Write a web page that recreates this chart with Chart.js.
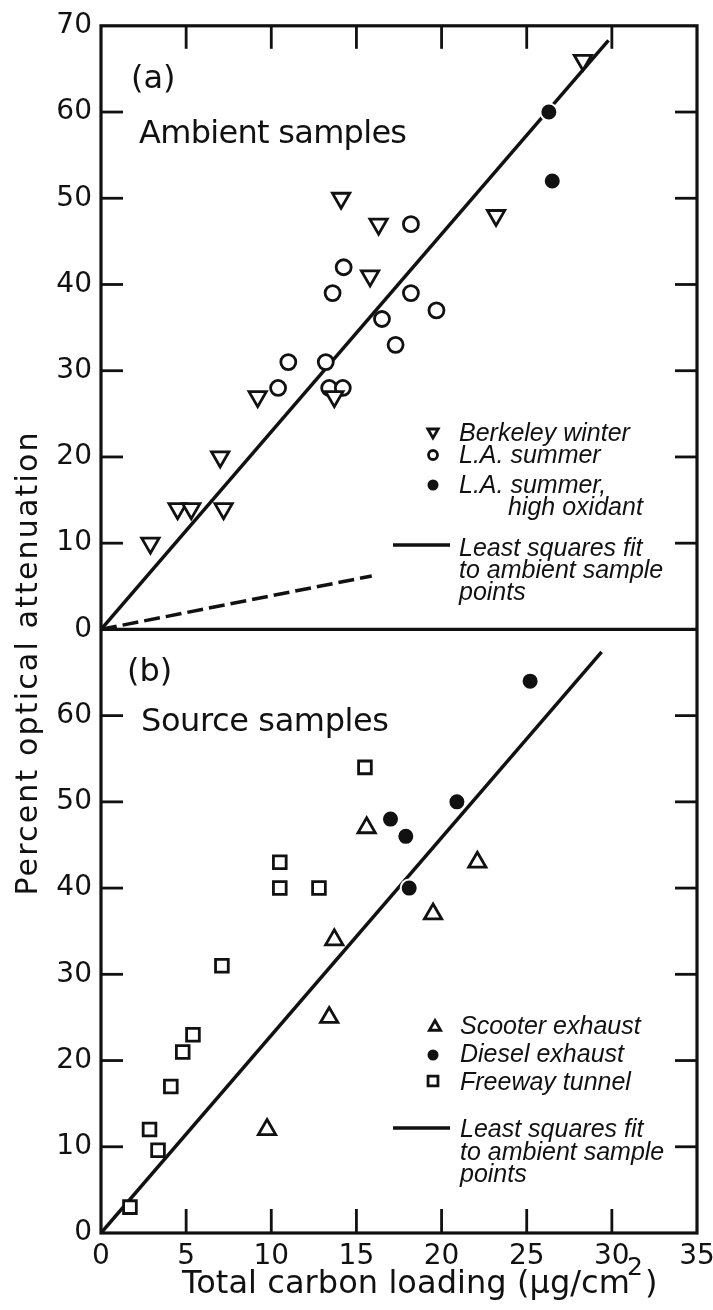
<!DOCTYPE html>
<html>
<head>
<meta charset="utf-8">
<script src="https://cdn.jsdelivr.net/npm/chart.js@4/dist/chart.umd.min.js"></script>
<style>
  html, body { margin: 0; padding: 0; background: #fff; }
  canvas { display: block; }
</style>
</head>
<body>
<canvas id="c" width="713" height="1310"></canvas>
<script>
// ---------- data ----------
// Panel (a): ambient samples
const berkeleyX = [2.9, 4.5, 5.3, 7.0, 7.2, 9.2, 13.7, 15.8, 14.1, 16.3, 23.2, 28.3];
const berkeleyY = [10, 14, 14, 20, 14, 27, 27, 41, 50, 47, 48, 66];
const laSummerX = [10.4, 11.0, 13.2, 13.4, 14.2, 13.6, 14.25, 16.5, 17.3, 18.2, 18.2, 19.7];
const laSummerY = [28, 31, 31, 28, 28, 39, 42, 36, 33, 39, 47, 37];
const laOxidantX = [26.3, 26.5];
const laOxidantY = [60, 52];
const fitAX = [0, 29.8];
const fitAY = [0, 68.3];
const dashAX = [0, 15.9];
const dashAY = [0, 6.2];
// Panel (b): source samples
const scooterX = [9.75, 13.4, 13.7, 15.6, 19.5, 22.1];
const scooterY = [12, 25, 34, 47, 37, 43];
const dieselX = [18.1, 17.9, 17.0, 20.9, 25.2];
const dieselY = [40, 46, 48, 50, 64];
const freewayX = [1.7, 3.35, 2.85, 4.1, 4.8, 5.4, 7.1, 10.5, 10.5, 12.8, 15.5];
const freewayY = [3, 9.6, 12, 17, 21, 23, 31, 40, 43, 40, 54];
const fitBX = [0, 29.4];
const fitBY = [0, 67.4];

// axes / ticks
const xMin = 0, xMax = 35, xStep = 5;
const yMin = 0, yMax = 70, yStep = 10;
const xInnerTicks = [5, 10, 15, 20, 25, 30];
const yInnerTicks = [10, 20, 30, 40, 50, 60];

// texts
const xTitle = 'Total carbon loading (\u03bcg/cm';
const xTitleSup = '2';
const xTitleEnd = ')';
const yTitle = 'Percent optical attenuation';
const panelALabel = '(a)', panelAName = 'Ambient samples';
const panelBLabel = '(b)', panelBName = 'Source samples';
const legendA = ['Berkeley winter', 'L.A. summer', 'L.A. summer,', 'high oxidant',
                 'Least squares fit', 'to ambient sample', 'points'];
const legendB = ['Scooter exhaust', 'Diesel exhaust', 'Freeway tunnel',
                 'Least squares fit', 'to ambient sample', 'points'];

const pts = (xs, ys) => xs.map((x, i) => ({x, y: ys[i]}));

const UPRIGHT = '"DejaVu Sans", "Liberation Sans", sans-serif';
const ITALIC = '"Liberation Sans", Arial, sans-serif';
const INK = '#111';

function fitText(ctx, text, x, y, target) {
  ctx.letterSpacing = '0px';
  const w = ctx.measureText(text).width;
  if (target && text.length > 1) {
    const ls = (target - w) / (text.length - 1);
    ctx.letterSpacing = ls.toFixed(2) + 'px';
  }
  ctx.fillText(text, x, y);
  ctx.letterSpacing = '0px';
}

function marker(ctx, style, x, y, r, rot, filled, bw) {
  ctx.save();
  ctx.fillStyle = filled ? INK : '#fff';
  ctx.strokeStyle = INK;
  ctx.lineWidth = bw;
  Chart.helpers.drawPoint(ctx, {pointStyle: style, radius: r, rotation: rot, borderWidth: bw}, x, y);
  ctx.restore();
}

function seg(ctx, x1, y1, x2, y2) {
  ctx.beginPath(); ctx.moveTo(x1, y1); ctx.lineTo(x2, y2); ctx.stroke();
}

const decorations = {
  id: 'decorations',
  afterDatasetsDraw(chart) {
    const {ctx, chartArea: ca, scales} = chart;
    const xs = scales.x, ya = scales.ya, yb = scales.yb;
    ctx.save();
    ctx.strokeStyle = INK;
    ctx.lineCap = 'butt';
    ctx.lineWidth = 3.2;
    ctx.strokeRect(ca.left, ca.top, ca.right - ca.left, ca.bottom - ca.top);
    const yDiv = ya.getPixelForValue(0);
    seg(ctx, ca.left, yDiv, ca.right, yDiv);
    ctx.lineWidth = 2.8;
    xInnerTicks.forEach(v => {
      const px = xs.getPixelForValue(v);
      seg(ctx, px, ya.getPixelForValue(yMax), px, ya.getPixelForValue(yMax) + 23);
      seg(ctx, px, yb.getPixelForValue(yMin), px, yb.getPixelForValue(yMin) - 24);
    });
    [ya, yb].forEach(s => yInnerTicks.forEach(v => {
      const py = s.getPixelForValue(v);
      seg(ctx, ca.left, py, ca.left + 22, py);
      seg(ctx, ca.right, py, ca.right - 22, py);
    }));
    ctx.restore();
  },
  afterDraw(chart) {
    const {ctx} = chart;
    ctx.save();
    ctx.fillStyle = INK;
    ctx.textBaseline = 'alphabetic';
    ctx.textAlign = 'left';

    // panel labels
    ctx.font = '32px ' + UPRIGHT;
    ctx.fillText(panelALabel, 131, 88);
    fitText(ctx, panelAName, 139, 143, 268);
    ctx.fillText(panelBLabel, 127, 681);
    fitText(ctx, panelBName, 141, 731, 248);

    // y axis title (rotated)
    ctx.save();
    ctx.translate(37, 663);
    ctx.rotate(-Math.PI / 2);
    ctx.textAlign = 'center';
    ctx.font = '30px ' + UPRIGHT;
    ctx.letterSpacing = '0px';
    const wY = ctx.measureText(yTitle).width;
    ctx.letterSpacing = ((463 - wY) / (yTitle.length - 1)).toFixed(2) + 'px';
    ctx.fillText(yTitle, 0, 0);
    ctx.restore();

    // x axis title with superscript
    ctx.font = '32px ' + UPRIGHT;
    ctx.letterSpacing = '0px';
    const w1 = ctx.measureText(xTitle).width;
    const target1 = 448;
    const ls1 = (target1 - w1) / (xTitle.length - 1);
    ctx.letterSpacing = ls1.toFixed(2) + 'px';
    ctx.fillText(xTitle, 182, 1293);
    const endMain = 182 + target1;
    ctx.letterSpacing = '0px';
    ctx.font = '25px ' + UPRIGHT;
    ctx.fillText(xTitleSup, endMain - 3, 1275);
    const supW = ctx.measureText(xTitleSup).width;
    ctx.font = '32px ' + UPRIGHT;
    ctx.fillText(xTitleEnd, endMain + supW - 1, 1293);

    // legend (a)
    ctx.font = 'italic 25px ' + ITALIC;
    marker(ctx, 'triangle', 433, 432, 6, 180, false, 2.8);
    ctx.fillText(legendA[0], 459, 441);
    marker(ctx, 'circle', 433, 455, 4.5, 0, false, 2.8);
    ctx.fillText(legendA[1], 459, 463);
    marker(ctx, 'circle', 433, 485, 5.5, 0, true, 0);
    ctx.fillText(legendA[2], 459, 493);
    ctx.fillText(legendA[3], 508, 515);
    ctx.strokeStyle = INK; ctx.lineWidth = 3.5;
    seg(ctx, 393, 545, 450, 545);
    ctx.fillText(legendA[4], 459, 556);
    ctx.fillText(legendA[5], 459, 578);
    ctx.fillText(legendA[6], 459, 600);

    // legend (b)
    marker(ctx, 'triangle', 435, 1027, 6.5, 0, false, 2.8);
    ctx.fillText(legendB[0], 460, 1034);
    marker(ctx, 'circle', 433, 1055, 5.5, 0, true, 0);
    ctx.fillText(legendB[1], 460, 1062);
    marker(ctx, 'rect', 433, 1081, 7, 0, false, 2.8);
    ctx.fillText(legendB[2], 460, 1090);
    ctx.strokeStyle = INK; ctx.lineWidth = 3.5;
    seg(ctx, 393, 1128, 450, 1128);
    ctx.fillText(legendB[3], 460, 1137);
    ctx.fillText(legendB[4], 460, 1160);
    ctx.fillText(legendB[5], 460, 1182);
    ctx.restore();
  }
};

const openMarker = (style, r, rot, yAxis, data) => ({
  type: 'scatter', data, yAxisID: yAxis, order: 0,
  pointStyle: style, pointRadius: r, pointRotation: rot,
  pointBackgroundColor: '#fff', pointBorderColor: INK, pointBorderWidth: 2.8,
  pointHoverRadius: r
});
const filledMarker = (r, yAxis, data) => ({
  type: 'scatter', data, yAxisID: yAxis, order: 0,
  pointStyle: 'circle', pointRadius: r,
  pointBackgroundColor: INK, pointBorderColor: '#fff', pointBorderWidth: 2,
  pointHoverRadius: r
});
const fitLine = (yAxis, data, dash) => ({
  type: 'line', data, yAxisID: yAxis, order: 1,
  borderColor: INK, borderWidth: 3.5, borderDash: dash || [],
  pointRadius: 0, fill: false, tension: 0
});

const tickFont = {family: UPRIGHT, size: 28};

new Chart(document.getElementById('c'), {
  type: 'scatter',
  data: {
    datasets: [
      openMarker('triangle', 10, 180, 'ya', pts(berkeleyX, berkeleyY)),
      openMarker('circle', 7.5, 0, 'ya', pts(laSummerX, laSummerY)),
      filledMarker(8.5, 'ya', pts(laOxidantX, laOxidantY)),
      fitLine('ya', pts(fitAX, fitAY)),
      fitLine('ya', pts(dashAX, dashAY), [16, 6]),
      openMarker('triangle', 10, 0, 'yb', pts(scooterX, scooterY)),
      filledMarker(8.5, 'yb', pts(dieselX, dieselY)),
      openMarker('rect', 9, 0, 'yb', pts(freewayX, freewayY)),
      fitLine('yb', pts(fitBX, fitBY))
    ]
  },
  options: {
    responsive: false,
    animation: false,
    events: [],
    layout: {padding: {top: 25, right: 16, left: 0, bottom: 0}},
    plugins: {legend: {display: false}, tooltip: {enabled: false}},
    scales: {
      x: {
        type: 'linear', position: 'bottom', min: xMin, max: xMax,
        ticks: {stepSize: xStep, font: tickFont, color: INK, padding: 7, autoSkip: false, maxRotation: 0},
        grid: {display: false, drawTicks: false}, border: {display: false},
        afterFit(s) { s.height = 77; s.paddingLeft = 0; s.paddingRight = 0; }
      },
      yb: {
        type: 'linear', position: 'left', stack: 'panels', stackWeight: 1,
        min: yMin, max: yMax,
        ticks: {stepSize: yStep, font: tickFont, color: INK, padding: 9,
                callback: v => (v === yMax ? '' : v)},
        grid: {display: false, drawTicks: false}, border: {display: false},
        afterFit(s) { s.width = 101; }
      },
      ya: {
        type: 'linear', position: 'left', stack: 'panels', stackWeight: 1,
        min: yMin, max: yMax,
        ticks: {stepSize: yStep, font: tickFont, color: INK, padding: 9},
        grid: {display: false, drawTicks: false}, border: {display: false},
        afterFit(s) { s.width = 101; }
      }
    }
  },
  plugins: [decorations]
});
</script>
</body>
</html>
